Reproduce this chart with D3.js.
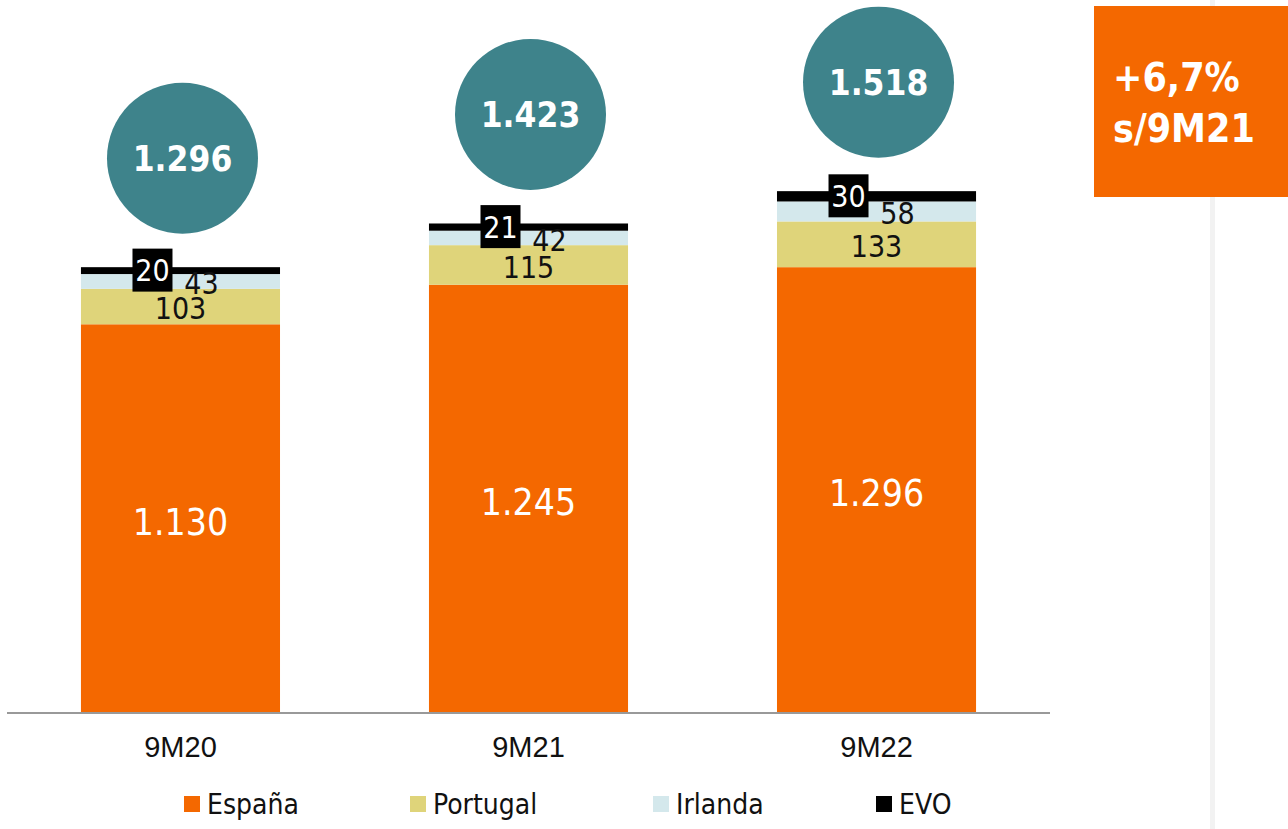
<!DOCTYPE html>
<html>
<head>
<meta charset="utf-8">
<script src="https://cdn.jsdelivr.net/npm/d3@7"></script>
<style>
  html, body { margin: 0; padding: 0; background: #fff; }
  svg { display: block; font-family: "DejaVu Sans Condensed", "DejaVu Sans", sans-serif; font-stretch: condensed; }
</style>
</head>
<body>
<svg id="chart" width="1288" height="829"></svg>
<script>
// data
const periods = ["9M20", "9M21", "9M22"];
const series = ["España", "Portugal", "Irlanda", "EVO"];
const espana = [1130, 1245, 1296];
const portugal = [103, 115, 133];
const irlanda = [43, 42, 58];
const evo = [20, 21, 30];
const totals = ["1.296", "1.423", "1.518"];
const growthLines = ["+6,7%", "s/9M21"];

const colors = {
  "España": "#f46800",
  "Portugal": "#dfd47a",
  "Irlanda": "#d4e8ec",
  "EVO": "#000000"
};

const rows = periods.map((p, i) => ({
  period: p,
  "España": espana[i],
  "Portugal": portugal[i],
  "Irlanda": irlanda[i],
  "EVO": evo[i]
}));

const svg = d3.select("#chart");
const fmt = v => d3.format(",")(v).replace(/,/g, ".");

// scales
const x = d3.scaleBand()
  .domain(periods)
  .range([7, 1050])
  .paddingInner(0.428)
  .paddingOuter(0.2125);

const y = d3.scaleLinear()
  .domain([0, 1600])
  .range([713, 162.6]);

const stacked = d3.stack().keys(series)(rows);

// faint panel edge on the right
svg.append("rect")
  .attr("x", 1210).attr("y", 0)
  .attr("width", 5).attr("height", 829)
  .attr("fill", "#f2f2f2");

// bars
const layers = svg.append("g")
  .selectAll("g")
  .data(stacked)
  .enter().append("g")
  .attr("fill", d => colors[d.key]);

layers.selectAll("rect")
  .data(d => d)
  .enter().append("rect")
  .attr("x", d => x(d.data.period))
  .attr("y", d => y(d[1]))
  .attr("width", x.bandwidth())
  .attr("height", d => y(d[0]) - y(d[1]));

// axis
const axis = svg.append("g")
  .attr("transform", `translate(0, ${y(0)})`)
  .call(d3.axisBottom(x).tickSize(0).tickPadding(23));
axis.select(".domain")
  .attr("d", "M7,0H1050")
  .attr("stroke", "#999")
  .attr("stroke-width", 2);
axis.selectAll("text")
  .attr("font-family", null)
  .attr("font-size", null)
  .style("font-size", "29px")
  .attr("fill", "#111");

// segment labels
const cx = d => x(d.data.period) + x.bandwidth() / 2;
const mid = d => y((d[0] + d[1]) / 2);

svg.append("g").selectAll("text")
  .data(stacked[0])
  .enter().append("text")
  .attr("x", cx)
  .attr("y", d => mid(d) + 3)
  .attr("dy", "0.36em")
  .attr("text-anchor", "middle")
  .attr("fill", "#fff")
  .style("font-size", "37px")
  .style("font-weight", "300")
  .text(d => fmt(d.data["España"]));

svg.append("g").selectAll("text")
  .data(stacked[1])
  .enter().append("text")
  .attr("x", cx)
  .attr("y", d => mid(d) + 2)
  .attr("dy", "0.36em")
  .attr("text-anchor", "middle")
  .attr("fill", "#111")
  .style("font-size", "30px")
  .text(d => fmt(d.data["Portugal"]));

svg.append("g").selectAll("text")
  .data(stacked[2])
  .enter().append("text")
  .attr("x", d => cx(d) + 21)
  .attr("y", d => mid(d) + 2)
  .attr("dy", "0.36em")
  .attr("text-anchor", "middle")
  .attr("fill", "#111")
  .style("font-size", "30px")
  .text(d => fmt(d.data["Irlanda"]));

const evoLabels = svg.append("g").selectAll("g")
  .data(stacked[3])
  .enter().append("g")
  .attr("transform", d => `translate(${cx(d) - 28}, ${mid(d)})`);
evoLabels.append("rect")
  .attr("x", -20).attr("y", -22)
  .attr("width", 40).attr("height", 43)
  .attr("fill", "#000");
evoLabels.append("text")
  .attr("dy", "0.36em")
  .attr("text-anchor", "middle")
  .attr("fill", "#fff")
  .style("font-size", "30px")
  .text(d => fmt(d.data["EVO"]));

// total bubbles
const bubbles = svg.append("g").selectAll("g")
  .data(stacked[3])
  .enter().append("g")
  .attr("transform", d => `translate(${cx(d) + 2}, ${y(d[1]) - 109})`);
bubbles.append("circle")
  .attr("r", 75.5)
  .attr("fill", "#3e838b");
bubbles.append("text")
  .attr("dy", "0.36em")
  .attr("text-anchor", "middle")
  .attr("fill", "#fff")
  .style("font-size", "35px")
  .style("font-weight", "bold")
  .text((d, i) => totals[i]);

// growth box
svg.append("rect")
  .attr("x", 1094).attr("y", 6)
  .attr("width", 200).attr("height", 191)
  .attr("fill", "#f46800");
svg.append("g").selectAll("text")
  .data(growthLines)
  .enter().append("text")
  .attr("x", 1113)
  .attr("y", (d, i) => 91 + i * 51)
  .attr("fill", "#fff")
  .style("font-size", "39px")
  .style("font-weight", "bold")
  .text(d => d);

// legend
const legendX = [184, 410, 653, 876];
const legend = svg.append("g").selectAll("g")
  .data(series)
  .enter().append("g")
  .attr("transform", (d, i) => `translate(${legendX[i]}, 796)`);
legend.append("rect")
  .attr("width", 16).attr("height", 16)
  .attr("fill", d => colors[d]);
legend.append("text")
  .attr("x", 23)
  .attr("y", 8)
  .attr("dy", "0.36em")
  .attr("fill", "#111")
  .style("font-size", "28px")
  .text(d => d);
</script>
</body>
</html>
